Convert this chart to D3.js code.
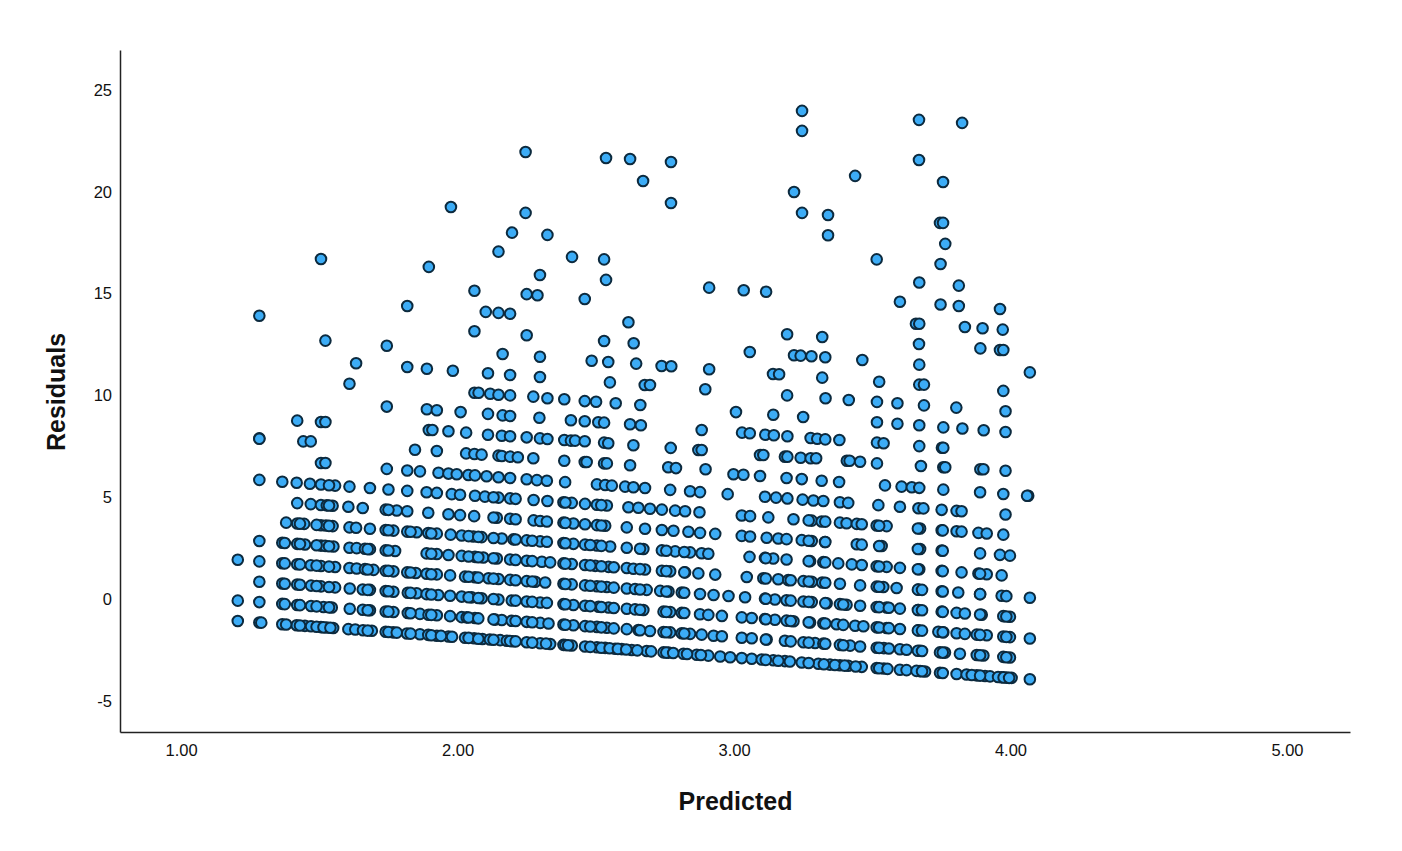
<!DOCTYPE html>
<html><head><meta charset="utf-8">
<script src="https://cdn.jsdelivr.net/npm/d3@7/dist/d3.min.js"></script>
<style>html,body{margin:0;padding:0;background:#fff}svg{display:block}text{font-family:"Liberation Sans",Arial,sans-serif;fill:#111}</style>
</head><body><svg id="c" width="1402" height="851"></svg>
<script>
const xTicks=[1,2,3,4,5];
const yTicks=[-5,0,5,10,15,20,25];
const xTitle="Predicted", yTitle="Residuals";
const band0=[[1.205,-1.08],[1.283,-1.15],[1.366,-1.24],[1.418,-1.29],[1.448,-1.32],[1.47,-1.34],[1.506,-1.38],[1.527,-1.40],[1.55,-1.42],[1.605,-1.48],[1.63,-1.50],[1.658,-1.53],[1.69,-1.56],[1.74,-1.61],[1.767,-1.64],[1.817,-1.69],[1.864,-1.73],[1.894,-1.76],[1.925,-1.80],[1.967,-1.84],[1.98,-1.85],[2.027,-1.90],[2.06,-1.93],[2.09,-1.96],[2.117,-1.99],[2.154,-2.02],[2.178,-2.05],[2.2,-2.07],[2.25,-2.12],[2.299,-2.17],[2.335,-2.21],[2.383,-2.25],[2.413,-2.28],[2.461,-2.33],[2.504,-2.37],[2.534,-2.40],[2.57,-2.44],[2.594,-2.46],[2.63,-2.50],[2.684,-2.55],[2.745,-2.62],[2.763,-2.63],[2.817,-2.69],[2.865,-2.74],[2.907,-2.78],[2.95,-2.82],[2.986,-2.86],[3.028,-2.90],[3.064,-2.93],[3.10,-2.97],[3.142,-3.01],[3.184,-3.05],[3.202,-3.07],[3.245,-3.12],[3.305,-3.18],[3.347,-3.22],[3.383,-3.25],[3.413,-3.28],[3.462,-3.33],[3.516,-3.39],[3.542,-3.41],[3.60,-3.47],[3.624,-3.49],[3.673,-3.54],[3.691,-3.56],[3.745,-3.62],[3.805,-3.68],[3.841,-3.71],[3.878,-3.75],[3.908,-3.78],[3.926,-3.80],[3.968,-3.84],[3.986,-3.86],[4.004,-3.87],[4.07,-3.94]];
const band1=[[1.205,-0.08],[1.283,-0.15],[1.366,-0.24],[1.42,-0.29],[1.47,-0.34],[1.515,-0.39],[1.545,-0.42],[1.61,-0.48],[1.657,-0.53],[1.683,-0.55],[1.74,-0.61],[1.768,-0.64],[1.82,-0.69],[1.864,-0.73],[1.895,-0.77],[1.925,-0.80],[1.973,-0.84],[2.015,-0.89],[2.033,-0.90],[2.063,-0.93],[2.136,-1.01],[2.16,-1.03],[2.196,-1.07],[2.25,-1.12],[2.299,-1.17],[2.329,-1.20],[2.383,-1.25],[2.419,-1.29],[2.461,-1.33],[2.504,-1.37],[2.54,-1.41],[2.612,-1.48],[2.654,-1.52],[2.696,-1.57],[2.745,-1.62],[2.769,-1.64],[2.811,-1.68],[2.841,-1.71],[2.883,-1.75],[2.926,-1.80],[2.956,-1.83],[3.028,-1.90],[3.064,-1.93],[3.118,-1.99],[3.184,-2.05],[3.251,-2.12],[3.293,-2.16],[3.323,-2.19],[3.383,-2.25],[3.42,-2.29],[3.456,-2.33],[3.516,-2.39],[3.542,-2.41],[3.60,-2.47],[3.624,-2.49],[3.673,-2.54],[3.745,-2.62],[3.763,-2.63],[3.817,-2.69],[3.878,-2.75],[3.902,-2.77],[3.974,-2.84],[3.998,-2.87]];
const band2=[[1.283,0.85],[1.366,0.76],[1.42,0.71],[1.47,0.66],[1.506,0.62],[1.557,0.57],[1.61,0.52],[1.657,0.47],[1.683,0.45],[1.74,0.39],[1.768,0.36],[1.82,0.31],[1.852,0.28],[1.888,0.24],[1.93,0.20],[1.973,0.16],[2.015,0.12],[2.051,0.08],[2.087,0.04],[2.148,-0.02],[2.196,-0.07],[2.25,-0.12],[2.299,-0.17],[2.323,-0.19],[2.383,-0.25],[2.419,-0.29],[2.461,-0.33],[2.51,-0.38],[2.546,-0.42],[2.612,-0.48],[2.642,-0.51],[2.672,-0.54],[2.745,-0.62],[2.769,-0.64],[2.811,-0.68],[2.877,-0.75],[2.907,-0.78],[2.956,-0.83],[3.028,-0.90],[3.064,-0.93],[3.112,-0.98],[3.148,-1.02],[3.19,-1.06],[3.215,-1.09],[3.275,-1.15],[3.323,-1.19],[3.371,-1.24],[3.438,-1.31],[3.468,-1.34],[3.516,-1.39],[3.552,-1.42],[3.60,-1.47],[3.667,-1.54],[3.739,-1.61],[3.757,-1.63],[3.805,-1.68],[3.835,-1.71],[3.878,-1.75],[3.914,-1.78],[3.974,-1.84],[3.998,-1.87],[4.07,-1.94]];
const band3=[[1.205,1.93],[1.283,1.85],[1.366,1.76],[1.42,1.71],[1.469,1.66],[1.506,1.62],[1.557,1.57],[1.609,1.52],[1.635,1.50],[1.665,1.47],[1.696,1.43],[1.74,1.39],[1.768,1.36],[1.818,1.31],[1.849,1.28],[1.888,1.24],[1.925,1.21],[1.973,1.16],[2.027,1.10],[2.063,1.07],[2.112,1.02],[2.148,0.98],[2.19,0.94],[2.25,0.88],[2.281,0.85],[2.317,0.81],[2.383,0.75],[2.413,0.72],[2.461,0.67],[2.504,0.63],[2.54,0.59],[2.612,0.52],[2.642,0.49],[2.684,0.45],[2.733,0.40],[2.763,0.37],[2.811,0.32],[2.877,0.25],[2.926,0.20],[2.98,0.15],[3.04,0.09],[3.112,0.02],[3.148,-0.02],[3.19,-0.06],[3.251,-0.12],[3.281,-0.15],[3.335,-0.21],[3.383,-0.25],[3.407,-0.28],[3.456,-0.33],[3.516,-0.39],[3.552,-0.42],[3.60,-0.47],[3.667,-0.54],[3.751,-0.62],[3.805,-0.68],[3.835,-0.71],[3.896,-0.77],[3.974,-0.84],[3.998,-0.87]];
const band4=[[1.283,2.85],[1.366,2.76],[1.42,2.71],[1.448,2.68],[1.506,2.62],[1.521,2.61],[1.551,2.58],[1.609,2.52],[1.635,2.50],[1.665,2.47],[1.683,2.45],[1.74,2.39],[1.774,2.36],[1.888,2.24],[1.925,2.21],[1.967,2.16],[2.015,2.12],[2.063,2.07],[2.093,2.04],[2.142,1.99],[2.19,1.94],[2.25,1.88],[2.305,1.83],[2.335,1.80],[2.383,1.75],[2.413,1.72],[2.461,1.67],[2.498,1.63],[2.546,1.58],[2.612,1.52],[2.636,1.49],[2.678,1.45],[2.739,1.39],[2.769,1.36],[2.823,1.31],[2.871,1.26],[2.932,1.20],[3.046,1.08],[3.106,1.02],[3.16,0.97],[3.196,0.93],[3.251,0.88],[3.281,0.85],[3.319,0.81],[3.383,0.75],[3.456,0.67],[3.516,0.61],[3.54,0.59],[3.588,0.54],[3.667,0.46],[3.751,0.38],[3.811,0.32],[3.89,0.24],[3.968,0.16],[4.07,0.06]];
const band5=[[1.38,3.75],[1.42,3.71],[1.445,3.69],[1.506,3.62],[1.524,3.61],[1.548,3.58],[1.609,3.52],[1.633,3.50],[1.683,3.45],[1.74,3.39],[1.768,3.36],[1.818,3.31],[1.852,3.28],[1.894,3.24],[1.925,3.21],[1.975,3.16],[2.015,3.12],[2.057,3.07],[2.087,3.04],[2.16,2.97],[2.202,2.93],[2.25,2.88],[2.299,2.83],[2.323,2.81],[2.383,2.75],[2.419,2.71],[2.461,2.67],[2.504,2.63],[2.552,2.58],[2.612,2.52],[2.672,2.46],[2.739,2.39],[2.787,2.34],[2.841,2.29],[2.883,2.25],[2.907,2.22],[3.056,2.07],[3.112,2.02],[3.142,1.99],[3.19,1.94],[3.275,1.86],[3.323,1.81],[3.377,1.75],[3.426,1.70],[3.462,1.67],[3.516,1.61],[3.552,1.58],[3.60,1.53],[3.67,1.46],[3.751,1.38],[3.823,1.31],[3.884,1.25],[3.914,1.22],[3.968,1.16]];
const band6=[[1.42,4.71],[1.469,4.66],[1.506,4.62],[1.527,4.60],[1.548,4.58],[1.605,4.53],[1.657,4.47],[1.74,4.39],[1.78,4.35],[1.818,4.31],[1.894,4.24],[1.967,4.16],[2.009,4.12],[2.06,4.07],[2.142,3.99],[2.19,3.94],[2.275,3.86],[2.299,3.83],[2.323,3.81],[2.383,3.75],[2.419,3.71],[2.461,3.67],[2.504,3.63],[2.534,3.60],[2.612,3.52],[2.678,3.45],[2.739,3.39],[2.781,3.35],[2.835,3.30],[2.877,3.25],[2.932,3.20],[3.028,3.10],[3.058,3.07],[3.118,3.01],[3.16,2.97],[3.19,2.94],[3.245,2.89],[3.281,2.85],[3.329,2.80],[3.444,2.69],[3.462,2.67],[3.534,2.60],[3.673,2.46],[3.751,2.38],[3.89,2.24],[3.962,2.17],[3.998,2.13]];
const band7=[[1.283,5.85],[1.366,5.76],[1.418,5.71],[1.466,5.66],[1.506,5.62],[1.557,5.57],[1.609,5.52],[1.683,5.45],[1.818,5.31],[1.888,5.24],[1.925,5.21],[1.979,5.15],[2.009,5.12],[2.063,5.07],[2.099,5.03],[2.148,4.98],[2.19,4.94],[2.275,4.86],[2.325,4.81],[2.383,4.75],[2.413,4.72],[2.461,4.67],[2.504,4.63],[2.54,4.59],[2.618,4.51],[2.654,4.48],[2.696,4.43],[2.739,4.39],[2.787,4.34],[2.823,4.31],[2.875,4.26],[3.028,4.10],[3.058,4.07],[3.124,4.01],[3.215,3.92],[3.281,3.85],[3.317,3.81],[3.383,3.75],[3.407,3.72],[3.444,3.69],[3.462,3.67],[3.516,3.61],[3.552,3.58],[3.673,3.46],[3.751,3.38],[3.805,3.33],[3.823,3.31],[3.884,3.25],[3.914,3.22],[3.974,3.16]];
const band8=[[1.744,6.39],[1.818,6.31],[1.864,6.27],[1.931,6.20],[1.967,6.16],[1.997,6.13],[2.039,6.09],[2.063,6.07],[2.105,6.03],[2.148,5.98],[2.19,5.94],[2.25,5.88],[2.287,5.84],[2.323,5.81],[2.389,5.74],[2.504,5.63],[2.534,5.60],[2.558,5.57],[2.606,5.52],[2.636,5.49],[2.678,5.45],[2.769,5.36],[2.841,5.29],[2.877,5.25],[2.977,5.15],[3.112,5.02],[3.152,4.98],[3.193,4.94],[3.248,4.88],[3.287,4.84],[3.323,4.81],[3.383,4.75],[3.413,4.72],[3.522,4.61],[3.60,4.53],[3.667,4.46],[3.685,4.45],[3.751,4.38],[3.805,4.33],[3.823,4.31],[3.982,4.15]];
const band9=[[2.998,6.13],[3.034,6.10],[3.094,6.04],[3.19,5.94],[3.245,5.89],[3.317,5.81],[3.38,5.75],[3.546,5.58],[3.606,5.52],[3.643,5.49],[3.67,5.46],[3.757,5.37],[3.89,5.24],[3.974,5.16],[4.064,5.07],[4.06,5.07]];
const upperLeft=[[1.283,13.91],[1.506,16.70],[1.522,12.69],[1.633,11.58],[1.609,10.57],[1.744,12.44],[1.896,16.31],[1.818,14.39],[1.818,11.39],[1.889,11.31],[1.983,11.21],[2.061,15.14],[2.061,13.15],[2.102,14.10],[2.148,14.05],[2.19,14.01],[2.148,17.06],[2.197,17.99],[2.325,17.88],[2.414,16.80],[2.53,16.68],[2.537,15.67],[2.25,14.97],[2.289,14.92],[2.298,15.91],[2.46,14.73],[2.25,12.95],[2.53,12.67],[2.163,12.03],[2.298,11.90],[2.485,11.70],[2.545,11.64],[2.11,11.09],[2.19,11.0],[2.298,10.90],[2.551,10.64],[2.061,10.13],[2.076,10.13],[2.118,10.08],[2.148,10.03],[2.19,10.0],[2.274,9.94],[2.325,9.86],[2.386,9.81],[2.46,9.72],[2.501,9.69],[2.572,9.61],[1.744,9.45],[1.889,9.32],[1.925,9.27],[2.011,9.18],[2.11,9.09],[2.163,9.02],[2.19,8.99],[2.296,8.90],[2.41,8.78],[2.46,8.73],[2.509,8.68],[2.53,8.66],[1.42,8.76],[1.506,8.69],[1.522,8.69],[1.896,8.30],[1.909,8.30],[1.967,8.24],[2.031,8.17],[2.11,8.07],[2.16,8.02],[2.19,7.99],[2.25,7.94],[2.298,7.89],[2.325,7.86],[2.386,7.81],[2.41,7.78],[2.425,7.78],[2.46,7.75],[2.53,7.68],[2.545,7.65],[1.283,7.89],[1.283,7.87],[1.442,7.74],[1.469,7.74],[1.846,7.33],[1.925,7.27],[2.031,7.15],[2.061,7.12],[2.087,7.09],[2.148,7.04],[2.16,7.02],[2.19,6.99],[2.218,6.96],[2.274,6.91],[2.386,6.79],[2.46,6.73],[2.467,6.73],[2.53,6.66],[2.54,6.66],[1.506,6.68],[1.522,6.68]];
const upperRight=[[2.91,15.29],[3.035,15.16],[3.116,15.09],[3.34,17.86],[3.764,17.44],[3.747,16.45],[3.516,16.68],[3.67,15.54],[3.813,15.39],[3.6,14.60],[3.747,14.46],[3.813,14.39],[3.962,14.24],[3.835,13.36],[3.899,13.30],[3.972,13.23],[3.658,13.52],[3.67,13.52],[3.192,13.0],[3.319,12.87],[3.669,12.52],[3.891,12.31],[3.962,12.23],[3.974,12.23],[3.057,12.13],[2.618,13.59],[2.637,12.56],[3.217,11.97],[3.241,11.95],[3.28,11.92],[3.33,11.87],[3.464,11.74],[2.646,11.56],[2.738,11.44],[2.773,11.43],[2.91,11.28],[3.67,11.51],[4.07,11.13],[3.141,11.05],[3.163,11.04],[3.319,10.87],[3.525,10.67],[3.67,10.53],[3.687,10.53],[2.677,10.51],[2.696,10.51],[2.896,10.30],[3.974,10.22],[3.192,10.0],[3.331,9.86],[3.415,9.77],[3.517,9.68],[3.591,9.61],[3.687,9.51],[3.804,9.40],[3.982,9.22],[2.661,9.53],[3.007,9.18],[3.142,9.05],[3.25,8.94],[2.624,8.58],[2.663,8.53],[2.883,8.30],[3.517,8.68],[3.591,8.61],[3.67,8.53],[3.757,8.43],[3.826,8.37],[3.903,8.29],[3.982,8.20],[3.029,8.17],[3.057,8.14],[3.113,8.07],[3.144,8.04],[3.193,7.99],[3.277,7.91],[3.301,7.87],[3.33,7.84],[3.381,7.81],[2.636,7.55],[2.771,7.42],[2.871,7.32],[2.883,7.32],[3.517,7.68],[3.541,7.65],[3.67,7.51],[3.752,7.43],[3.757,7.43],[3.094,7.07],[3.106,7.07],[3.184,6.99],[3.193,6.99],[3.241,6.94],[3.277,6.91],[3.297,6.91],[3.408,6.79],[3.418,6.79],[3.456,6.74],[3.517,6.66],[3.676,6.53],[3.757,6.47],[3.764,6.47],[2.624,6.57],[2.762,6.47],[2.79,6.43],[2.897,6.37],[3.891,6.37],[3.902,6.37],[3.982,6.30]];
const topPoints=[[3.246,23.97],[3.246,22.99],[3.669,23.53],[3.825,23.38],[3.669,21.56],[2.624,21.61],[2.537,21.66],[2.772,21.46],[2.671,20.53],[2.772,19.45],[3.217,19.99],[3.438,20.78],[3.756,20.48],[3.246,18.96],[3.34,18.86],[3.745,18.47],[3.756,18.47],[2.246,21.95],[2.246,18.96],[1.976,19.25]];
const overlap0=[[1.29,-1.16],[1.38,-1.25],[1.43,-1.30],[1.49,-1.36],[1.515,-1.39],[1.54,-1.41],[1.675,-1.55],[1.75,-1.62],[1.78,-1.65],[1.83,-1.70],[1.905,-1.78],[1.94,-1.81],[2.04,-1.91],[2.075,-1.95],[2.13,-2.0],[2.19,-2.06],[2.21,-2.08],[2.27,-2.14],[2.32,-2.19],[2.39,-2.26],[2.40,-2.27],[2.48,-2.35],[2.52,-2.39],[2.55,-2.42],[2.58,-2.45],[2.61,-2.48],[2.65,-2.52],[2.70,-2.57],[2.755,-2.63],[2.78,-2.65],[2.83,-2.70],[2.88,-2.75],[3.115,-2.99],[3.16,-3.03],[3.27,-3.14],[3.325,-3.20],[3.365,-3.24],[3.40,-3.27],[3.44,-3.31],[3.525,-3.40],[3.555,-3.43],[3.66,-3.53],[3.68,-3.55],[3.755,-3.63],[3.86,-3.73],[3.89,-3.76],[3.955,-3.83],[3.975,-3.85],[3.995,-3.87]];
const overlap1=[[1.375,-0.25],[1.43,-0.30],[1.49,-0.36],[1.535,-0.41],[1.675,-0.55],[1.75,-0.62],[1.83,-0.70],[1.905,-0.78],[2.04,-0.91],[2.075,-0.95],[2.13,-1.00],[2.21,-1.08],[2.27,-1.14],[2.39,-1.26],[2.48,-1.35],[2.52,-1.39],[2.565,-1.44],[2.66,-1.53],[2.755,-1.63],[2.82,-1.69],[3.115,-1.99],[3.205,-2.08],[3.27,-2.14],[3.33,-2.20],[3.395,-2.27],[3.525,-2.40],[3.56,-2.43],[3.665,-2.54],[3.68,-2.55],[3.755,-2.63],[3.89,-2.76],[3.985,-2.86]];
const overlap2=[[1.375,0.75],[1.43,0.70],[1.49,0.64],[1.535,0.59],[1.675,0.45],[1.75,0.38],[1.83,0.30],[1.905,0.22],[2.04,0.09],[2.075,0.05],[2.13,0.0],[2.21,-0.08],[2.27,-0.14],[2.39,-0.26],[2.48,-0.35],[2.52,-0.39],[2.565,-0.44],[2.66,-0.53],[2.755,-0.63],[2.82,-0.69],[3.115,-0.99],[3.205,-1.08],[3.27,-1.14],[3.33,-1.20],[3.395,-1.27],[3.525,-1.40],[3.56,-1.43],[3.665,-1.54],[3.68,-1.55],[3.755,-1.63],[3.89,-1.76],[3.985,-1.86]];
const overlap3=[[1.375,1.75],[1.43,1.70],[1.49,1.64],[1.535,1.59],[1.675,1.45],[1.75,1.38],[1.83,1.30],[1.905,1.22],[2.04,1.09],[2.075,1.05],[2.13,1.0],[2.21,0.92],[2.27,0.86],[2.39,0.74],[2.48,0.65],[2.52,0.61],[2.565,0.56],[2.66,0.47],[2.755,0.37],[2.82,0.31],[3.115,0.01],[3.205,-0.08],[3.27,-0.14],[3.33,-0.20],[3.395,-0.27],[3.525,-0.40],[3.56,-0.43],[3.665,-0.54],[3.68,-0.55],[3.755,-0.63],[3.89,-0.76],[3.985,-0.86]];
const overlap4=[[1.375,2.75],[1.43,2.70],[1.49,2.64],[1.535,2.59],[1.675,2.45],[1.75,2.38],[1.905,2.22],[2.04,2.09],[2.075,2.05],[2.13,2.0],[2.21,1.92],[2.27,1.86],[2.39,1.74],[2.48,1.65],[2.52,1.61],[2.565,1.56],[2.66,1.47],[2.755,1.37],[2.82,1.31],[3.115,1.01],[3.205,0.92],[3.27,0.86],[3.33,0.80],[3.525,0.60],[3.665,0.46],[3.68,0.45],[3.755,0.37],[3.89,0.24],[3.985,0.14]];
const overlap5=[[1.43,3.70],[1.49,3.64],[1.535,3.59],[1.75,3.38],[1.83,3.30],[1.905,3.22],[2.04,3.09],[2.075,3.05],[2.13,3.0],[2.21,2.92],[2.27,2.86],[2.39,2.74],[2.48,2.65],[2.52,2.61],[2.66,2.47],[2.755,2.37],[2.82,2.31],[3.115,2.01],[3.27,1.86],[3.33,1.80],[3.525,1.60],[3.665,1.46],[3.755,1.37],[3.89,1.24]];
const overlap6=[[1.535,4.59],[1.75,4.38],[2.13,4.0],[2.21,3.92],[2.39,3.74],[2.52,3.61],[3.27,2.86],[3.33,2.80],[3.525,2.60],[3.665,2.46],[3.755,2.37]];
const overlap7=[[1.535,5.59],[1.75,5.38],[2.13,5.0],[2.21,4.92],[2.39,4.74],[2.52,4.61],[3.27,3.86],[3.33,3.80],[3.525,3.60],[3.665,3.46],[3.755,3.37]];

const series=[band9,band8,band7,overlap7,band6,overlap6,band5,overlap5,band4,overlap4,band3,overlap3,band2,overlap2,band1,overlap1,band0,overlap0,upperLeft,upperRight,topPoints];
const svg=d3.select("#c");
const x=d3.scaleLinear().domain([0.779,5.228]).range([120,1350]);
const y=d3.scaleLinear().domain([-6.53,26.96]).range([732,50]);
const gx=svg.append("g").attr("transform","translate(0,732)").call(d3.axisBottom(x).tickValues(xTicks).tickSize(0).tickPadding(12).tickFormat(d3.format(".2f")));
const gy=svg.append("g").attr("transform","translate(120,0)").call(d3.axisLeft(y).tickValues(yTicks).tickSize(0).tickPadding(8).tickFormat(d=>String(d)));
[gx,gy].forEach(g=>{g.selectAll("text").attr("font-size",16.5).attr("font-family",'"Liberation Sans",Arial,sans-serif');g.select(".domain").attr("stroke","#222").attr("stroke-width",1.5);});
svg.append("g").selectAll("g").data(series).join("g").selectAll("circle").data(d=>d).join("circle")
 .attr("cx",d=>x(d[0])).attr("cy",d=>y(d[1])).attr("r",5.3)
 .attr("fill","#3cacf6").attr("stroke","#0c2a3e").attr("stroke-width",2);
svg.append("text").attr("x",735.5).attr("y",810).attr("text-anchor","middle").attr("font-size",25).attr("font-weight","bold").text(xTitle);
svg.append("text").attr("transform","translate(65,392) rotate(-90)").attr("text-anchor","middle").attr("font-size",25).attr("font-weight","bold").text(yTitle);
</script></body></html>
